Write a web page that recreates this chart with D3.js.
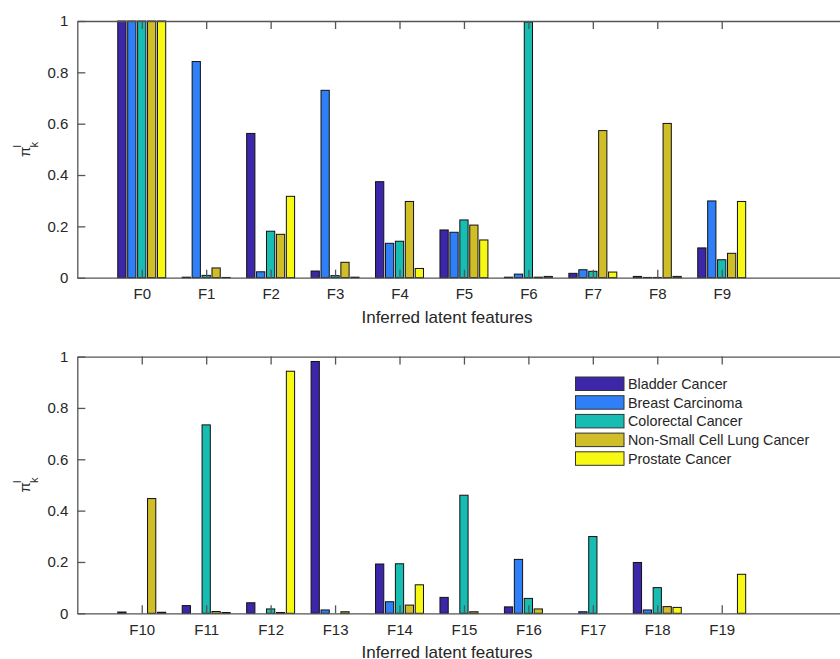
<!DOCTYPE html>
<html>
<head>
<meta charset="utf-8">
<script src="https://cdn.jsdelivr.net/npm/d3@7"></script>
<style>
    body { margin: 0; background: #fff; }
    svg { display: block; }
    text { font-family: "Liberation Sans", Arial, Helvetica, sans-serif; fill: #262626; }
</style>
</head>
<body>
<div id="chart"></div>
<script>
// feature names, F0..F19 (top panel shows F0-F9, bottom F10-F19)
let features = d3.range(20).map(i => "F" + i);

let seriesNames = ["Bladder Cancer", "Breast Carcinoma", "Colorectal Cancer",
    "Non-Small Cell Lung Cancer", "Prostate Cancer"];

// pi_k^l per feature
let bladder    = [1, 0.002, 0.562, 0.026, 0.374, 0.186, 0.002, 0.017, 0.005, 0.116,
                  0.005, 0.030, 0.041, 0.981, 0.192, 0.062, 0.025, 0, 0.198, 0];
let breast     = [1, 0.842, 0.023, 0.730, 0.134, 0.177, 0.014, 0.031, 0.001, 0.299,
                  0, 0, 0, 0.013, 0.045, 0, 0.210, 0.006, 0.013, 0];
let colorectal = [1, 0.009, 0.181, 0.008, 0.142, 0.225, 0.996, 0.025, 0.001, 0.070,
                  0, 0.734, 0.017, 0, 0.193, 0.460, 0.058, 0.299, 0.100, 0];
let nsclc      = [1, 0.038, 0.169, 0.060, 0.297, 0.205, 0.002, 0.573, 0.601, 0.095,
                  0.447, 0.007, 0.003, 0.006, 0.032, 0.006, 0.017, 0, 0.026, 0];
let prostate   = [1, 0.001, 0.317, 0.002, 0.036, 0.147, 0.005, 0.022, 0.005, 0.297,
                  0.004, 0.003, 0.943, 0, 0.111, 0, 0, 0, 0.023, 0.152];

let seriesValues = [bladder, breast, colorectal, nsclc, prostate];

let yTicks = [0, 0.2, 0.4, 0.6, 0.8, 1];
let yTickLabels = ["0", "0.2", "0.4", "0.6", "0.8", "1"];

let colors = ["#3d27a8", "#2f80f8", "#17bdb2", "#cfbe27", "#f8f815"];

let width = 840, height = 659;

let svg = d3.select("#chart").append("svg")
    .attr("width", width)
    .attr("height", height);

// matlab-like x: categories at 1..10, limits [0, 12]
let x = d3.scaleLinear().domain([0, 12]).range([77.3, 850.6]);
let step = 0.154;      // offset between bars in a group (data units)
let barW = 0.128;      // bar width (data units)

function drawPanel(top, start) {
    let bottom = top + 256.7;
    let y = d3.scaleLinear().domain([0, 1]).range([bottom, top]);

    let g = svg.append("g");

    // bars
    seriesValues.forEach((vals, j) => {
        g.append("g").selectAll("rect")
            .data(vals.slice(start, start + 10))
            .enter().append("rect")
            .attr("x", (d, i) => x(i + 1 + (j - 2) * step - barW / 2))
            .attr("y", d => y(d))
            .attr("width", x(barW) - x(0))
            .attr("height", d => y(0) - y(d))
            .attr("fill", colors[j])
            .attr("stroke", "#111")
            .attr("stroke-width", 1);
    });

    let catPos = d3.range(1, 11);

    // bottom axis with inward ticks
    let xAxis = g.append("g")
        .attr("transform", `translate(0, ${bottom})`)
        .call(d3.axisBottom(x).tickValues(catPos)
            .tickFormat(d => features[start + d - 1])
            .tickSizeInner(-8).tickSizeOuter(0).tickPadding(11));
    xAxis.selectAll("text").style("font-size", "15px");

    // top box line
    g.append("g")
        .attr("transform", `translate(0, ${top})`)
        .call(d3.axisTop(x).tickValues(catPos).tickFormat("")
            .tickSizeInner(-8).tickSizeOuter(0));

    // left axis
    let yAxis = g.append("g")
        .attr("transform", `translate(${x(0)}, 0)`)
        .call(d3.axisLeft(y).tickValues(yTicks)
            .tickFormat((d, i) => yTickLabels[i])
            .tickSizeInner(-8).tickSizeOuter(0).tickPadding(9));
    yAxis.selectAll("text").style("font-size", "15px");

    g.selectAll(".domain, .tick line")
        .attr("stroke", "#555")
        .attr("stroke-width", 1.3);
    g.selectAll(".tick text").attr("fill", "#262626");

    // x label
    g.append("text")
        .attr("x", 447)
        .attr("y", bottom + 44.8)
        .attr("text-anchor", "middle")
        .style("font-size", "17px")
        .text("Inferred latent features");

    // y label: pi with sub k and super l, rotated
    let yl = g.append("g")
        .attr("transform", `translate(30, ${top + 136}) rotate(-90)`);
    yl.append("text").attr("x", 0).attr("y", 0)
        .style("font-size", "15px").text("π");
    yl.append("text").attr("x", 9.5).attr("y", -9)
        .style("font-size", "11px").text("l");
    yl.append("text").attr("x", 9.5).attr("y", 8)
        .style("font-size", "11px").text("k");
}

drawPanel(21, 0);
drawPanel(356.6, 10);

// legend (inside lower panel, no box)
let legend = svg.append("g").attr("transform", "translate(575.5, 377)");
seriesNames.forEach((name, j) => {
    let row = legend.append("g").attr("transform", `translate(0, ${j * 18.7})`);
    row.append("rect")
        .attr("width", 48.5)
        .attr("height", 13.5)
        .attr("fill", colors[j])
        .attr("stroke", "#333")
        .attr("stroke-width", 1);
    row.append("text")
        .attr("x", 52.5)
        .attr("y", 6.9)
        .attr("dy", "0.35em")
        .style("font-size", "14.3px")
        .text(name);
});
</script>
</body>
</html>
